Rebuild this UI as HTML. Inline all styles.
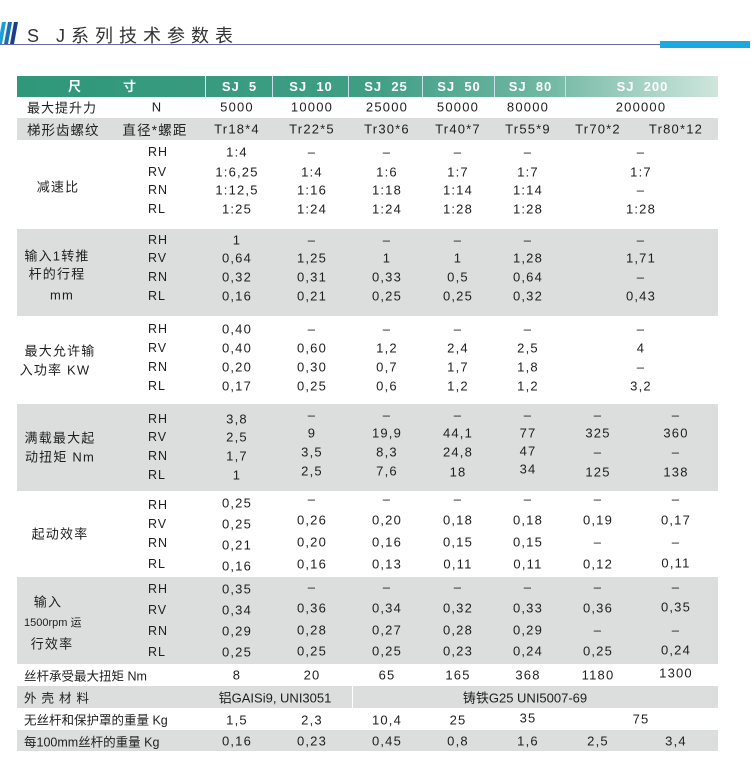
<!DOCTYPE html>
<html><head><meta charset="utf-8"><style>
body{margin:0;width:756px;height:768px;background:#fff;position:relative;overflow:hidden;font-family:"Liberation Sans","Noto Sans CJK SC",sans-serif;color:#1e1e1e;}
.g{position:absolute;left:17px;width:701px;background:#dcdddd;}
.c{position:absolute;transform:translate(-50%,-50%);white-space:nowrap;font-size:13px;letter-spacing:1.2px;}
.l{position:absolute;transform:translateY(-50%);white-space:nowrap;font-size:12.5px;letter-spacing:1px;}
.h{position:absolute;top:76px;height:21px;line-height:21px;color:#fff;font-weight:bold;font-size:13px;text-align:center;letter-spacing:1px;}
</style></head><body>
<svg style="position:absolute;left:0;top:20px" width="20" height="26"><polygon points="2,2 6,2 2,24 -2,24" fill="#1aa0d8"/><polygon points="8,2 12,2 8,24 4,24" fill="#1a6fb0"/><polygon points="14,2 18,2 14,24 10,24" fill="#1a3f8a"/></svg>
<div style="position:absolute;left:27px;top:22px;font-size:18px;letter-spacing:6px;color:#333">S J系列技术参数表</div>
<div style="position:absolute;left:0;top:44px;width:660px;height:1px;background:#6a6aa8"></div>
<div style="position:absolute;left:660px;top:41px;width:90px;height:7px;background:#19a8e0"></div>

<div style="position:absolute;left:17px;top:76px;width:701px;height:21px;background:linear-gradient(90deg,#2f977a 0%,#3f9e84 50%,#6fb7a2 75%,#cfe6dd 100%)"></div>
<div class="h" style="left:60px;width:30px">尺</div><div class="h" style="left:115px;width:30px">寸</div>
<div class="h" style="left:205px;width:67px;border-left:1px solid #fff">SJ&nbsp;&nbsp;5</div>
<div class="h" style="left:272px;width:76px;border-left:1px solid #cde">SJ&nbsp;&nbsp;10</div>
<div class="h" style="left:348px;width:74px;border-left:1px solid #cde">SJ&nbsp;&nbsp;25</div>
<div class="h" style="left:422px;width:72px;border-left:1px solid #cde">SJ&nbsp;&nbsp;50</div>
<div class="h" style="left:494px;width:71px;border-left:1px solid #cde">SJ&nbsp;&nbsp;80</div>
<div class="h" style="left:565px;width:153px;border-left:1px solid #cde">SJ&nbsp;&nbsp;200</div>

<div class="g" style="top:118px;height:22px"></div>
<div class="g" style="top:229px;height:87px"></div>
<div class="g" style="top:404px;height:87px"></div>
<div class="g" style="top:577px;height:87px"></div>
<div class="g" style="top:686px;height:22px"></div>
<div class="g" style="top:730px;height:21px"></div>

<div class="l" style="left:27px;top:107px;font-size:13px">最大提升力</div><div class="c" style="left:157px;top:107px">N</div>
<div class="c" style="left:237px;top:107px">5000</div><div class="c" style="left:312px;top:107px">10000</div><div class="c" style="left:387px;top:107px">25000</div><div class="c" style="left:458px;top:107px">50000</div><div class="c" style="left:528px;top:107px">80000</div><div class="c" style="left:641px;top:107px">200000</div>
<div class="l" style="left:27px;top:129px;font-size:13.5px">梯形齿螺纹</div><div class="c" style="left:155px;top:129px;font-size:13.5px">直径*螺距</div>
<div class="c" style="left:237px;top:129px">Tr18*4</div><div class="c" style="left:312px;top:129px">Tr22*5</div><div class="c" style="left:387px;top:129px">Tr30*6</div><div class="c" style="left:458px;top:129px">Tr40*7</div><div class="c" style="left:528px;top:129px">Tr55*9</div><div class="c" style="left:598px;top:129px">Tr70*2</div><div class="c" style="left:676px;top:129px">Tr80*12</div>

<div class="c" style="left:58px;top:186px">减速比</div>
<div class="l" style="left:148px;top:152px">RH</div><div class="l" style="left:148px;top:172px">RV</div><div class="l" style="left:148px;top:190px">RN</div><div class="l" style="left:148px;top:209px">RL</div>
<div class="c" style="left:237px;top:152px">1:4</div><div class="c" style="left:312px;top:152px">–</div><div class="c" style="left:387px;top:152px">–</div><div class="c" style="left:458px;top:152px">–</div><div class="c" style="left:528px;top:152px">–</div><div class="c" style="left:641px;top:152px">–</div>
<div class="c" style="left:237px;top:172px">1:6,25</div><div class="c" style="left:312px;top:172px">1:4</div><div class="c" style="left:387px;top:172px">1:6</div><div class="c" style="left:458px;top:172px">1:7</div><div class="c" style="left:528px;top:172px">1:7</div><div class="c" style="left:641px;top:172px">1:7</div>
<div class="c" style="left:237px;top:190px">1:12,5</div><div class="c" style="left:312px;top:190px">1:16</div><div class="c" style="left:387px;top:190px">1:18</div><div class="c" style="left:458px;top:190px">1:14</div><div class="c" style="left:528px;top:190px">1:14</div><div class="c" style="left:641px;top:190px">–</div>
<div class="c" style="left:237px;top:209px">1:25</div><div class="c" style="left:312px;top:209px">1:24</div><div class="c" style="left:387px;top:209px">1:24</div><div class="c" style="left:458px;top:209px">1:28</div><div class="c" style="left:528px;top:209px">1:28</div><div class="c" style="left:641px;top:209px">1:28</div>

<div class="c" style="left:57px;top:255px">输入1转推</div><div class="c" style="left:57px;top:273px">杆的行程</div><div class="c" style="left:62px;top:295px">mm</div>
<div class="l" style="left:148px;top:240px">RH</div><div class="l" style="left:148px;top:258px">RV</div><div class="l" style="left:148px;top:277px">RN</div><div class="l" style="left:148px;top:296px">RL</div>
<div class="c" style="left:237px;top:240px">1</div><div class="c" style="left:312px;top:240px">–</div><div class="c" style="left:387px;top:240px">–</div><div class="c" style="left:458px;top:240px">–</div><div class="c" style="left:528px;top:240px">–</div><div class="c" style="left:641px;top:240px">–</div>
<div class="c" style="left:237px;top:258px">0,64</div><div class="c" style="left:312px;top:258px">1,25</div><div class="c" style="left:387px;top:258px">1</div><div class="c" style="left:458px;top:258px">1</div><div class="c" style="left:528px;top:258px">1,28</div><div class="c" style="left:641px;top:258px">1,71</div>
<div class="c" style="left:237px;top:277px">0,32</div><div class="c" style="left:312px;top:277px">0,31</div><div class="c" style="left:387px;top:277px">0,33</div><div class="c" style="left:458px;top:277px">0,5</div><div class="c" style="left:528px;top:277px">0,64</div><div class="c" style="left:641px;top:277px">–</div>
<div class="c" style="left:237px;top:296px">0,16</div><div class="c" style="left:312px;top:296px">0,21</div><div class="c" style="left:387px;top:296px">0,25</div><div class="c" style="left:458px;top:296px">0,25</div><div class="c" style="left:528px;top:296px">0,32</div><div class="c" style="left:641px;top:296px">0,43</div>

<div class="c" style="left:60px;top:350px">最大允许输</div><div class="c" style="left:55px;top:369px">入功率 KW</div>
<div class="l" style="left:148px;top:329px">RH</div><div class="l" style="left:148px;top:348px">RV</div><div class="l" style="left:148px;top:367px">RN</div><div class="l" style="left:148px;top:386px">RL</div>
<div class="c" style="left:237px;top:329px">0,40</div><div class="c" style="left:312px;top:329px">–</div><div class="c" style="left:387px;top:329px">–</div><div class="c" style="left:458px;top:329px">–</div><div class="c" style="left:528px;top:329px">–</div><div class="c" style="left:641px;top:329px">–</div>
<div class="c" style="left:237px;top:348px">0,40</div><div class="c" style="left:312px;top:348px">0,60</div><div class="c" style="left:387px;top:348px">1,2</div><div class="c" style="left:458px;top:348px">2,4</div><div class="c" style="left:528px;top:348px">2,5</div><div class="c" style="left:641px;top:348px">4</div>
<div class="c" style="left:237px;top:367px">0,20</div><div class="c" style="left:312px;top:367px">0,30</div><div class="c" style="left:387px;top:367px">0,7</div><div class="c" style="left:458px;top:367px">1,7</div><div class="c" style="left:528px;top:367px">1,8</div><div class="c" style="left:641px;top:367px">–</div>
<div class="c" style="left:237px;top:386px">0,17</div><div class="c" style="left:312px;top:386px">0,25</div><div class="c" style="left:387px;top:386px">0,6</div><div class="c" style="left:458px;top:386px">1,2</div><div class="c" style="left:528px;top:386px">1,2</div><div class="c" style="left:641px;top:386px">3,2</div>

<div class="c" style="left:60px;top:437px">满载最大起</div><div class="c" style="left:60px;top:456px">动扭矩 Nm</div>
<div class="l" style="left:148px;top:419px">RH</div><div class="l" style="left:148px;top:437px">RV</div><div class="l" style="left:148px;top:456px">RN</div><div class="l" style="left:148px;top:475px">RL</div>
<div class="c" style="left:237px;top:419px">3,8</div><div class="c" style="left:312px;top:415px">–</div><div class="c" style="left:387px;top:415px">–</div><div class="c" style="left:458px;top:415px">–</div><div class="c" style="left:528px;top:415px">–</div><div class="c" style="left:598px;top:415px">–</div><div class="c" style="left:676px;top:415px">–</div>
<div class="c" style="left:237px;top:437px">2,5</div><div class="c" style="left:312px;top:433px">9</div><div class="c" style="left:387px;top:433px">19,9</div><div class="c" style="left:458px;top:433px">44,1</div><div class="c" style="left:528px;top:433px">77</div><div class="c" style="left:598px;top:433px">325</div><div class="c" style="left:676px;top:433px">360</div>
<div class="c" style="left:237px;top:456px">1,7</div><div class="c" style="left:312px;top:452px">3,5</div><div class="c" style="left:387px;top:452px">8,3</div><div class="c" style="left:458px;top:452px">24,8</div><div class="c" style="left:528px;top:451px">47</div><div class="c" style="left:598px;top:452px">–</div><div class="c" style="left:676px;top:452px">–</div>
<div class="c" style="left:237px;top:475px">1</div><div class="c" style="left:312px;top:471px">2,5</div><div class="c" style="left:387px;top:471px">7,6</div><div class="c" style="left:458px;top:472px">18</div><div class="c" style="left:528px;top:469px">34</div><div class="c" style="left:598px;top:472px">125</div><div class="c" style="left:676px;top:472px">138</div>

<div class="c" style="left:60px;top:533px">起动效率</div>
<div class="l" style="left:148px;top:505px">RH</div><div class="l" style="left:148px;top:524px">RV</div><div class="l" style="left:148px;top:543px">RN</div><div class="l" style="left:148px;top:564px">RL</div>
<div class="c" style="left:237px;top:503px">0,25</div><div class="c" style="left:312px;top:499px">–</div><div class="c" style="left:387px;top:499px">–</div><div class="c" style="left:458px;top:499px">–</div><div class="c" style="left:528px;top:499px">–</div><div class="c" style="left:598px;top:499px">–</div><div class="c" style="left:676px;top:499px">–</div>
<div class="c" style="left:237px;top:524px">0,25</div><div class="c" style="left:312px;top:520px">0,26</div><div class="c" style="left:387px;top:520px">0,20</div><div class="c" style="left:458px;top:520px">0,18</div><div class="c" style="left:528px;top:520px">0,18</div><div class="c" style="left:598px;top:520px">0,19</div><div class="c" style="left:676px;top:520px">0,17</div>
<div class="c" style="left:237px;top:545px">0,21</div><div class="c" style="left:312px;top:542px">0,20</div><div class="c" style="left:387px;top:542px">0,16</div><div class="c" style="left:458px;top:542px">0,15</div><div class="c" style="left:528px;top:542px">0,15</div><div class="c" style="left:598px;top:542px">–</div><div class="c" style="left:676px;top:542px">–</div>
<div class="c" style="left:237px;top:566px">0,16</div><div class="c" style="left:312px;top:564px">0,16</div><div class="c" style="left:387px;top:564px">0,13</div><div class="c" style="left:458px;top:564px">0,11</div><div class="c" style="left:528px;top:564px">0,11</div><div class="c" style="left:598px;top:564px">0,12</div><div class="c" style="left:676px;top:563px">0,11</div>

<div class="c" style="left:48px;top:601px">输入</div><div class="l" style="left:24px;top:622px;font-size:11px;letter-spacing:0">1500rpm 运</div><div class="c" style="left:52px;top:643px">行效率</div>
<div class="l" style="left:148px;top:589px">RH</div><div class="l" style="left:148px;top:610px">RV</div><div class="l" style="left:148px;top:631px">RN</div><div class="l" style="left:148px;top:652px">RL</div>
<div class="c" style="left:237px;top:589px">0,35</div><div class="c" style="left:312px;top:587px">–</div><div class="c" style="left:387px;top:587px">–</div><div class="c" style="left:458px;top:587px">–</div><div class="c" style="left:528px;top:587px">–</div><div class="c" style="left:598px;top:587px">–</div><div class="c" style="left:676px;top:587px">–</div>
<div class="c" style="left:237px;top:610px">0,34</div><div class="c" style="left:312px;top:608px">0,36</div><div class="c" style="left:387px;top:608px">0,34</div><div class="c" style="left:458px;top:608px">0,32</div><div class="c" style="left:528px;top:608px">0,33</div><div class="c" style="left:598px;top:608px">0,36</div><div class="c" style="left:676px;top:607px">0,35</div>
<div class="c" style="left:237px;top:631px">0,29</div><div class="c" style="left:312px;top:630px">0,28</div><div class="c" style="left:387px;top:630px">0,27</div><div class="c" style="left:458px;top:630px">0,28</div><div class="c" style="left:528px;top:630px">0,29</div><div class="c" style="left:598px;top:630px">–</div><div class="c" style="left:676px;top:630px">–</div>
<div class="c" style="left:237px;top:652px">0,25</div><div class="c" style="left:312px;top:651px">0,25</div><div class="c" style="left:387px;top:651px">0,25</div><div class="c" style="left:458px;top:651px">0,23</div><div class="c" style="left:528px;top:651px">0,24</div><div class="c" style="left:598px;top:651px">0,25</div><div class="c" style="left:676px;top:650px">0,24</div>

<div class="l" style="left:24px;top:675px;letter-spacing:0">丝杆承受最大扭矩 Nm</div>
<div class="c" style="left:237px;top:675px">8</div><div class="c" style="left:312px;top:675px">20</div><div class="c" style="left:387px;top:675px">65</div><div class="c" style="left:458px;top:675px">165</div><div class="c" style="left:528px;top:675px">368</div><div class="c" style="left:598px;top:675px">1180</div><div class="c" style="left:676px;top:673px">1300</div>
<div class="l" style="left:24px;top:697px;letter-spacing:5px">外壳材料</div>
<div class="c" style="left:275px;top:697px;letter-spacing:0">铝GAISi9, UNI3051</div>
<div style="position:absolute;left:352px;top:686px;width:1px;height:22px;background:#fff"></div>
<div class="c" style="left:525px;top:697px;letter-spacing:0">铸铁G25 UNI5007-69</div>
<div class="l" style="left:24px;top:719px;letter-spacing:0">无丝杆和保护罩的重量 Kg</div>
<div class="c" style="left:237px;top:720px">1,5</div><div class="c" style="left:312px;top:720px">2,3</div><div class="c" style="left:387px;top:720px">10,4</div><div class="c" style="left:458px;top:720px">25</div><div class="c" style="left:528px;top:718px">35</div><div class="c" style="left:641px;top:719px">75</div>
<div class="l" style="left:24px;top:741px;letter-spacing:0">每100mm丝杆的重量 Kg</div>
<div class="c" style="left:237px;top:741px">0,16</div><div class="c" style="left:312px;top:741px">0,23</div><div class="c" style="left:387px;top:741px">0,45</div><div class="c" style="left:458px;top:741px">0,8</div><div class="c" style="left:528px;top:741px">1,6</div><div class="c" style="left:598px;top:741px">2,5</div><div class="c" style="left:676px;top:741px">3,4</div>
</body></html>
